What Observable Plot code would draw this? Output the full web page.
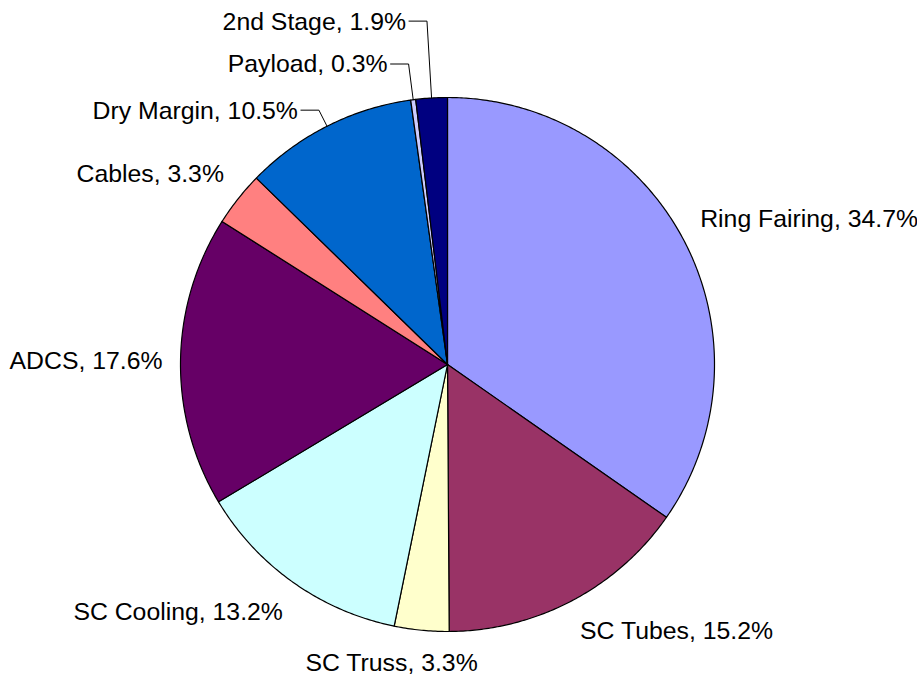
<!DOCTYPE html>
<html>
<head>
<meta charset="utf-8">
<script src="https://cdn.jsdelivr.net/npm/d3@7"></script>
<script src="https://cdn.jsdelivr.net/npm/@observablehq/plot@0.6"></script>
<style>
  html, body { margin: 0; padding: 0; background: #fff; }
  #chart svg { display: block; }
</style>
</head>
<body>
<div id="chart"></div>
<script>
// ---- data ----
const names  = ["Ring Fairing", "SC Tubes", "SC Truss", "SC Cooling", "ADCS", "Cables", "Dry Margin", "Payload", "2nd Stage"];
const shares = [34.7, 15.2, 3.3, 13.2, 17.6, 3.3, 10.5, 0.3, 1.9];
const colors = ["#9999FF", "#993366", "#FFFFCC", "#CCFFFF", "#660066", "#FF8080", "#0066CC", "#CCCCFF", "#000080"];

// ---- layout ----
const W = 917, H = 679;
const R = 267;               // pie radius
const labelR = 285;          // radius where label box corner sits
const leaderLen = {"Dry Margin": 18, "Payload": 36, "2nd Stage": 77}; // radial leader length
const leaderArm = 18;
const FONT = "Liberation Sans, Arial, sans-serif";
const FS = 24.8, ASC = 22.5, BOX = 28;

const ctx = document.createElement("canvas").getContext("2d");
ctx.font = `${FS}px 'Liberation Sans', Arial, sans-serif`;
const fmt = v => `${v.toFixed(1)}%`;
const total = d3.sum(shares);
const clamp = v => Math.max(0, Math.min(1, v));

const slicePts = [];
const labels = [];
const leaderLabels = [];
const leaderPts = [];
let cum = 0;
names.forEach((name, i) => {
  const a0 = cum / total * 2 * Math.PI;
  cum += shares[i];
  const a1 = cum / total * 2 * Math.PI;
  const n = Math.max(2, Math.ceil((a1 - a0) / (Math.PI / 360)));
  slicePts.push({name, x: 0, y: 0});
  for (let k = 0; k <= n; k++) {
    const a = a0 + (a1 - a0) * k / n;
    slicePts.push({name, x: R * Math.sin(a), y: R * Math.cos(a)});
  }
  slicePts.push({name, x: 0, y: 0});

  const am = (a0 + a1) / 2, s = Math.sin(am), c = Math.cos(am);
  const text = `${name}, ${fmt(shares[i])}`;
  if (leaderLen[name]) {
    const px = R * s, py = R * c;
    const ex = px + leaderLen[name] * s, ey = py + leaderLen[name] * c;
    const hx = ex - leaderArm;
    leaderPts.push({name, x: px, y: py}, {name, x: ex, y: ey}, {name, x: hx, y: ey});
    leaderLabels.push({text, x: hx - 3, y: ey - 0.5});
  } else {
    const w = ctx.measureText(text).width;
    const px = labelR * s, py = labelR * c;
    const fracLeft = clamp(0.5 - s / 0.6);
    const fracAbove = clamp(0.5 + c / 0.6);
    // y is upward; top of box = py + fracAbove*BOX
    const top = py + fracAbove * BOX;
    labels.push({text, x: px - fracLeft * w, y: top - ASC});
  }
});

const chart = Plot.plot({
  width: W,
  height: H,
  margin: 0,
  x: {domain: [-447, W - 447], axis: null},
  y: {domain: [364 - H, 364], axis: null},
  color: {domain: names, range: colors},
  style: {fontFamily: FONT, background: "#fff"},
  marks: [
    Plot.line(slicePts, {x: "x", y: "y", z: "name", fill: "name", stroke: "black", strokeWidth: 1.2, strokeLinejoin: "round", curve: "linear"}),
    Plot.line(leaderPts, {x: "x", y: "y", z: "name", stroke: "black", strokeWidth: 1, curve: "linear"}),
    Plot.text(labels, {x: "x", y: "y", text: "text", textAnchor: "start", lineAnchor: "bottom", fontSize: FS, fill: "black"}),
    Plot.text(leaderLabels, {x: "x", y: "y", text: "text", textAnchor: "end", lineAnchor: "middle", fontSize: FS, fill: "black"})
  ]
});
document.getElementById("chart").append(chart);
</script>
</body>
</html>
